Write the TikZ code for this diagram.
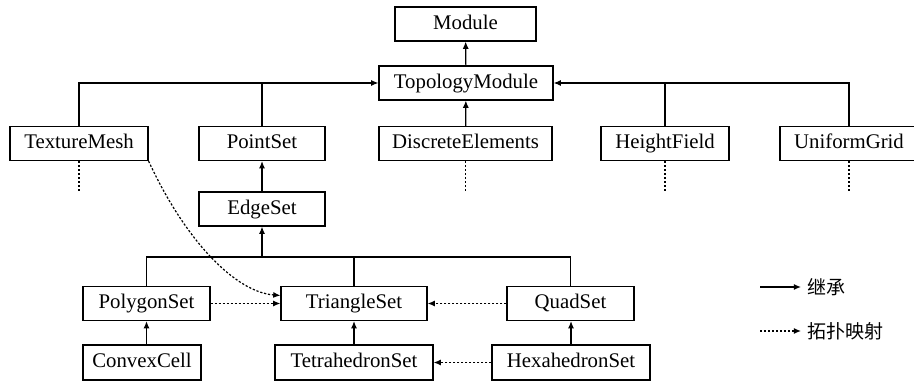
\documentclass[tikz,border=0pt]{standalone}
\usepackage{fontspec}
\setmainfont{Liberation Serif}
\newfontfamily\cjkfont{Noto Sans CJK SC}
\usetikzlibrary{arrows.meta}
\begin{document}
\begin{tikzpicture}[x=0.5pt,y=-0.5pt,
  box/.style={draw, line width=0.6pt, inner sep=0pt, minimum height=17pt,
    text height=7.2pt, text depth=2pt,
    font=\fontsize{10.4}{12}\selectfont},
  inherit/.style={draw, line width=0.6pt, -{Latex[length=3.6pt,width=3pt]}},
  link/.style={draw, line width=0.6pt},
  topo/.style={draw, line width=0.6pt, dash pattern=on 1.1pt off 0.9pt,
    -{Latex[length=3.6pt,width=3pt]}},
  stub/.style={draw, line width=0.6pt, dash pattern=on 1.1pt off 0.9pt},
  legendtext/.style={anchor=west, inner sep=0pt,
    font=\cjkfont\fontsize{9.5}{11}\selectfont}]
\useasboundingbox (0,0) rectangle (914,383);

% class boxes
\node[box, minimum width=70.5pt] (mod)  at (465.5,24)  {Module};
\node[box, minimum width=87pt]   (top)  at (466,83)    {TopologyModule};
\node[box, minimum width=69pt]   (tm)   at (79,143.5)  {TextureMesh};
\node[box, minimum width=63pt]   (ps)   at (262,143.5) {PointSet};
\node[box, minimum width=86.5pt] (de)   at (465.5,143.5) {DiscreteElements};
\node[box, minimum width=64pt]   (hf)   at (665,143.5) {HeightField};
\node[box, minimum width=69pt]   (ug)   at (849,143.5) {UniformGrid};
\node[box, minimum width=63pt]   (es)   at (262,209)   {EdgeSet};
\node[box, minimum width=63.5pt] (poly) at (146.5,303.5) {PolygonSet};
\node[box, minimum width=73pt]   (tri)  at (354,303.5) {TriangleSet};
\node[box, minimum width=63.5pt] (quad) at (570.5,303.5) {QuadSet};
\node[box, minimum width=59pt, minimum height=17.5pt]   (cc)  at (142,362.5) {ConvexCell};
\node[box, minimum width=79pt, minimum height=17.5pt]   (tet) at (354,362.5) {TetrahedronSet};
\node[box, minimum width=79pt, minimum height=17.5pt]   (hex) at (571,362.5) {HexahedronSet};

% inheritance into Module / TopologyModule
\path[inherit] (top) -- (mod);
\path[inherit] (de) -- (top);
\path[inherit] (tm.north) |- (top.west);
\path[link] (ps.north) -- (ps.north |- top.west);
\path[inherit] (ug.north) |- (top.east);
\path[link] (hf.north) -- (hf.north |- top.east);

% further subclasses not shown
\coordinate (cut) at (0,191);
\foreach \n in {tm,de,hf,ug}
  \path[stub] (\n.south) -- (\n.south |- cut);

% point set hierarchy
\coordinate (bus) at (262,257);
\path[inherit] (es) -- (ps);
\path[link] (poly.north) |- (quad.north |- bus) -- (quad.north);
\path[link] (tri.north) -- (tri.north |- bus);
\path[inherit] (es.south |- bus) -- (es.south);
\path[inherit] (poly.south |- cc.north) -- (poly.south);
\path[inherit] (tet) -- (tri);
\path[inherit] (hex) -- (hex.north |- quad.south);

% topology mappings
\path[topo] (poly) -- (tri);
\path[topo] (quad) -- (tri);
\path[topo] (hex) -- (tet);
\path[topo] (tm.south east) .. controls (185,240) and (235,292) .. ([yshift=4pt]tri.west);

% legend
\coordinate (la) at (760,287);
\coordinate (lb) at (801,287);
\coordinate (lc) at (760,331);
\coordinate (ld) at (801,331);
\path[inherit] (la) -- (lb);
\path[topo] (lc) -- (ld);
\node[legendtext] (l1) at (807,287) {继承};
\node[legendtext] (l2) at (807,331) {拓扑映射};
\end{tikzpicture}
\end{document}
